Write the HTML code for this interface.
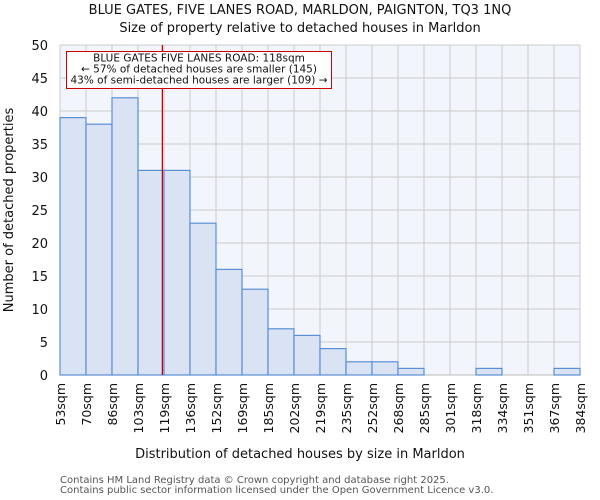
<!DOCTYPE html>
<html><head><meta charset="utf-8">
<style>
html,body{margin:0;padding:0;background:#fff;}
svg{display:block;font-family:"DejaVu Sans","Liberation Sans",sans-serif;}
</style></head>
<body>
<svg id="chart" width="600" height="500" viewBox="0 0 600 500">
<text x="300" y="14" text-anchor="middle" font-size="13" fill="#111">BLUE GATES, FIVE LANES ROAD, MARLDON, PAIGNTON, TQ3 1NQ</text>
<text x="300" y="32" text-anchor="middle" font-size="13" fill="#111">Size of property relative to detached houses in Marldon</text>
<rect x="60" y="45" width="520" height="330" fill="#f2f5fc"/>
<g id="grid"></g>
<g id="bars"></g>
<g id="yticks"></g>
<g id="xticks"></g>
<g id="marker"></g>
<text x="300" y="458" text-anchor="middle" font-size="13" fill="#111">Distribution of detached houses by size in Marldon</text>
<text transform="translate(13,210) rotate(-90)" text-anchor="middle" font-size="13" fill="#111">Number of detached properties</text>
<text x="60" y="483" font-size="10" fill="#555">Contains HM Land Registry data © Crown copyright and database right 2025.</text>
<text x="60" y="493" font-size="10" fill="#555">Contains public sector information licensed under the Open Government Licence v3.0.</text>
</svg>
<script>
const binLabels = ["53sqm","70sqm","86sqm","103sqm","119sqm","136sqm","152sqm","169sqm","185sqm","202sqm","219sqm","235sqm","252sqm","268sqm","285sqm","301sqm","318sqm","334sqm","351sqm","367sqm","384sqm"];
const binEdges = [53,70,86,103,119,136,152,169,185,202,219,235,252,268,285,301,318,334,351,367,384];
const counts = [39,38,42,31,31,23,16,13,7,6,4,2,2,1,0,0,1,0,0,1];
const yTicks = [0,5,10,15,20,25,30,35,40,45,50];
const propertySize = 118;
const annotationLines = ["BLUE GATES FIVE LANES ROAD: 118sqm","← 57% of detached houses are smaller (145)","43% of semi-detached houses are larger (109) →"];

const NS="http://www.w3.org/2000/svg";
const L=60,R=580,T=45,B=375,YMAX=50;
const nb=counts.length, bw=(R-L)/nb;
const xIdx=i=>L+i*bw;
const y=v=>B-(v/YMAX)*(B-T);
function xVal(v){let i=0;while(i<binEdges.length-2&&v>binEdges[i+1])i++;return xIdx(i)+bw*(v-binEdges[i])/(binEdges[i+1]-binEdges[i]);}
function mk(tag,attrs,parent){const e=document.createElementNS(NS,tag);for(const k in attrs)e.setAttribute(k,attrs[k]);parent.appendChild(e);return e;}
const grid=document.getElementById('grid'),bars=document.getElementById('bars'),yt=document.getElementById('yticks'),xt=document.getElementById('xticks'),mg=document.getElementById('marker');
yTicks.forEach(t=>{
  const g=mk('line',{x1:L,x2:R,y1:y(t),y2:y(t),stroke:'#cccccc','stroke-width':1},grid);
  
  
  const tx=mk('text',{x:L-12,y:y(t)+5,'text-anchor':'end','font-size':13,fill:'#111'},yt);
  tx.textContent=t;
  
  
});
binLabels.forEach((lab,i)=>{
  const g=mk('line',{x1:xIdx(i),x2:xIdx(i),y1:T,y2:B,stroke:'#cccccc','stroke-width':1},grid);
  
  
  const tx=mk('text',{transform:`translate(${xIdx(i)+5},383) rotate(-90)`,'text-anchor':'end','font-size':12.5,fill:'#111'},xt);
  tx.textContent=lab;
  
  
});
counts.forEach((c,i)=>{
  if(c<=0)return;
  const r=mk('rect',{x:xIdx(i),y:y(c),width:bw,height:B-y(c),fill:'#dae3f4',stroke:'#5a8fd6','stroke-width':1.2},bars);
  
  
});
mk('line',{x1:L,x2:R,y1:B,y2:B,stroke:'#bbbbbb','stroke-width':1},grid);
const px=xVal(propertySize);
const ml=mk('line',{x1:px,x2:px,y1:T,y2:B,stroke:'#cc0000','stroke-width':1.3},mg);


const box=mk('rect',{x:66.5,y:51.5,width:265,height:37,fill:'#fff',stroke:'#cc0000','stroke-width':1},mg);


annotationLines.forEach((s,i)=>{
  const tx=mk('text',{x:199,y:61.5+i*11,'text-anchor':'middle','font-size':10.5,fill:'#111'},mg);
  tx.textContent=s;
  
  
});
</script>
</body></html>
